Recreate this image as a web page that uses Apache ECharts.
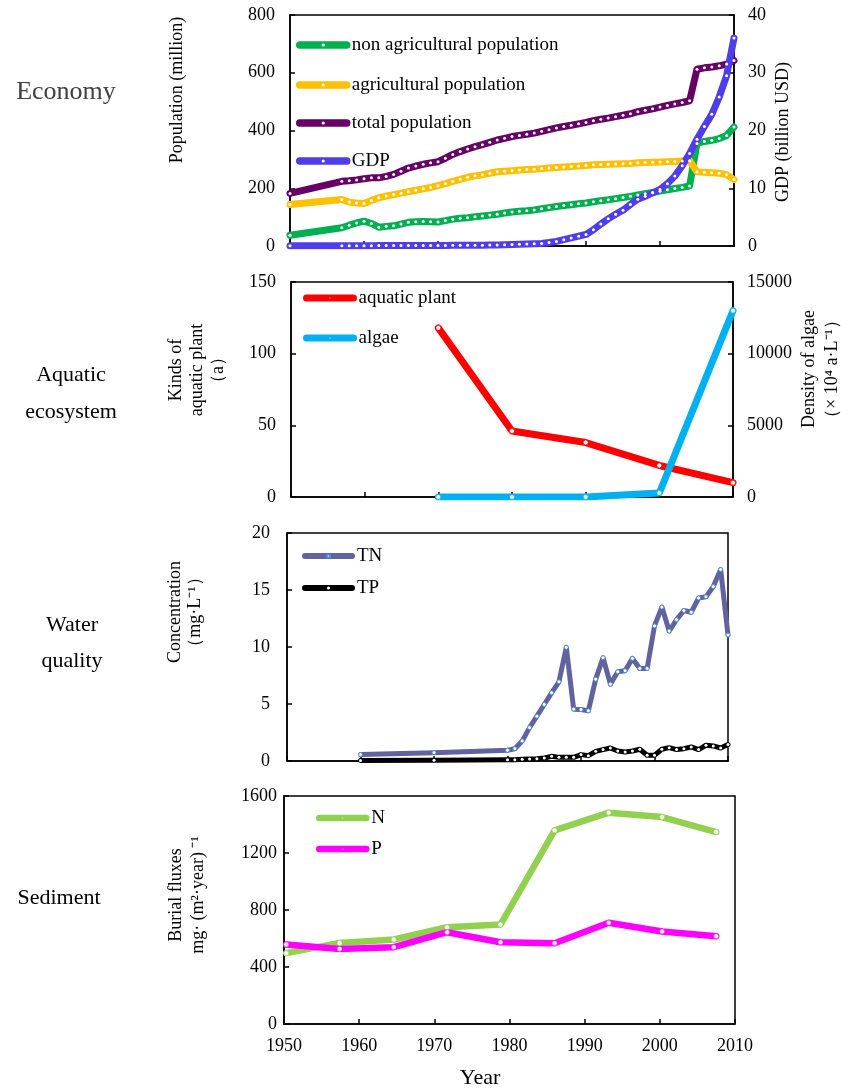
<!DOCTYPE html>
<html><head><meta charset="utf-8">
<script src="https://cdn.jsdelivr.net/npm/echarts@6/dist/echarts.min.js"></script>
<style>html,body{margin:0;padding:0;background:#fff}#c{width:852px;height:1088px}</style>
</head><body><div id="c"></div>
<script>
// ---- data ----
const xTicks = [1950, 1960, 1970, 1980, 1990, 2000, 2010];
const popYears = [1950,1957,1958,1959,1960,1961,1962,1963,1964,1965,1966,1967,1968,1969,1970,1971,1972,1973,1974,1975,1976,1977,1978,1979,1980,1981,1982,1983,1984,1985,1986,1987,1988,1989,1990,1991,1992,1993,1994,1995,1996,1997,1998,1999,2000,2001,2002,2003,2004,2005,2006,2007,2008,2009,2010];
const nonAgriPop = [37,63,72,80,86,78,65,68,70,76,82,84,85,84,83,88,93,96,98,101,104,107,110,114,118,120,122,125,129,133,137,140,143,146,149,153,157,160,164,168,172,177,181,185,190,195,199,203,208,355,362,366,372,383,412];
const agriPop = [144,161,152,149,147,158,167,173,178,183,188,193,198,203,209,216,224,231,238,243,247,252,257,259,261,263,265,266,268,270,272,274,275,277,279,281,282,283,284,285,286,288,289,290,291,292,293,294,295,257,255,254,252,247,230];
const totalPop = [182,224,226,229,233,236,236,241,248,259,270,277,283,288,292,304,317,327,336,344,351,359,367,373,379,383,387,391,397,403,409,414,418,423,428,434,439,443,448,453,458,465,470,475,481,487,492,497,503,612,617,620,624,630,642];
const gdp = [0.05,0.05,0.05,0.06,0.06,0.06,0.07,0.07,0.07,0.08,0.08,0.08,0.09,0.09,0.1,0.1,0.11,0.12,0.13,0.14,0.15,0.17,0.19,0.22,0.25,0.3,0.35,0.4,0.45,0.6,0.8,1.1,1.4,1.7,2.0,2.8,3.8,4.7,5.5,6.2,7.2,8.1,8.6,9.2,9.8,10.8,12.1,13.9,16.0,18.5,20.7,22.8,25.8,29.5,36];

const ecoYears = [1970, 1980, 1990, 2000, 2010];
const aquaticPlant = [118, 46, 38, 22, 10];
const algae = [0, 0, 0, 280, 13000];

const wqYears = [1960,1970,1980,1981,1982,1983,1984,1985,1986,1987,1988,1989,1990,1991,1992,1993,1994,1995,1996,1997,1998,1999,2000,2001,2002,2003,2004,2005,2006,2007,2008,2009,2010];
const tn = [0.56,0.73,0.94,1.08,1.76,2.93,3.93,4.96,5.98,6.95,9.97,4.55,4.52,4.4,7.18,9.06,6.74,7.83,7.92,9.0,8.12,8.12,11.85,13.5,11.4,12.4,13.2,13.05,14.3,14.4,15.3,16.8,11.05];
const tp = [0.05,0.06,0.12,0.12,0.15,0.18,0.2,0.26,0.41,0.32,0.32,0.32,0.56,0.47,0.85,1.0,1.14,0.88,0.79,0.88,1.03,0.5,0.5,1.03,1.17,1.0,1.08,1.23,1.0,1.38,1.32,1.14,1.44];

const sedYears = [1950.3,1957.4,1964.6,1971.7,1978.8,1986.0,1993.2,2000.3,2007.5];
const sedN = [497,569,593,679,698,1359,1483,1452,1347];
const sedP = [558,527,539,644,574,567,710,649,616];

// ---- chart ----
const FF = "'Liberation Serif','Times New Roman',serif";
const pair = (xs, ys) => xs.map((x, i) => [x, ys[i]]);

const grids = [
  {left: 290, top: 15, width: 444, height: 231},
  {left: 291, top: 282, width: 442, height: 215},
  {left: 287, top: 533, width: 441, height: 228},
  {left: 284, top: 796, width: 451, height: 228}
].map(g => Object.assign(g, {show: true, borderColor: '#000', borderWidth: 1.5, backgroundColor: 'transparent'}));

function xAxis(i, showLabel) {
  return {
    type: 'value', gridIndex: i, min: 1950, max: 2010, interval: 10,
    axisLine: {show: true, lineStyle: {color: '#000', width: 1.5}},
    axisTick: {show: true, inside: true, length: 5, lineStyle: {color: '#000', width: 1.5}},
    axisLabel: {show: showLabel, color: '#000', fontFamily: FF, fontSize: 18, margin: 13,
      formatter: v => xTicks.includes(v) ? String(v) : ''},
    splitLine: {show: false}
  };
}
function yAxis(i, min, max, interval, pos, margin) {
  return {
    type: 'value', gridIndex: i, min, max, interval, position: pos,
    axisLine: {show: true, lineStyle: {color: '#000', width: 1.5}},
    axisTick: {show: true, inside: true, length: 5, lineStyle: {color: '#000', width: 1.5}},
    axisLabel: {color: '#000', fontFamily: FF, fontSize: 18, margin, formatter: v => String(v)},
    splitLine: {show: false}
  };
}

function line(name, xi, yi, data, color, width, sym) {
  return {
    name, type: 'line', xAxisIndex: xi, yAxisIndex: yi, data,
    symbol: 'circle', symbolSize: sym.size, showSymbol: true,
    lineStyle: {color, width, cap: 'round', join: 'round'},
    itemStyle: {color: sym.fill || '#fff', borderColor: sym.border || color, borderWidth: sym.bw || 0},
    emphasis: {disabled: true}, silent: true, animation: false, z: 3
  };
}

function legend(name, left, center, itemWidth, lw) {
  return {
    data: [name], left, top: center - 10, padding: 0, itemWidth, itemHeight: 4,
    selectedMode: false, textStyle: {fontFamily: FF, fontSize: 19, color: '#000', lineHeight: 20},
    lineStyle: {width: lw, cap: 'round'}
  };
}

function vtext(x, y, text, size, lh) {
  return {type: 'text', x, y, rotation: Math.PI / 2, silent: true,
    style: {text, fontFamily: FF, fontSize: size, fill: '#000', textAlign: 'center', textVerticalAlign: 'middle', align: 'center', verticalAlign: 'middle', lineHeight: lh}};
}
function htext(x, y, text, size, color, lh) {
  return {type: 'text', x, y, silent: true,
    style: {text, fontFamily: FF, fontSize: size, fill: color || '#000', textAlign: 'center', textVerticalAlign: 'middle', align: 'center', verticalAlign: 'middle', lineHeight: lh || size * 1.5}};
}

const option = {
  backgroundColor: '#fff',
  animation: false,
  grid: grids,
  xAxis: [xAxis(0, false), xAxis(1, false), xAxis(2, false), xAxis(3, true)],
  yAxis: [
    yAxis(0, 0, 800, 200, 'left', 15),
    yAxis(0, 0, 40, 10, 'right', 14),
    yAxis(1, 0, 150, 50, 'left', 15),
    yAxis(1, 0, 15000, 5000, 'right', 14),
    yAxis(2, 0, 20, 5, 'left', 17),
    yAxis(3, 0, 1600, 400, 'left', 7)
  ],
  legend: [
    legend('non agricultural population', 296, 45, 47, 7.5),
    legend('agricultural population', 296, 85, 47, 7.5),
    legend('total population', 296, 123, 47, 7.5),
    legend('GDP', 296, 161, 47, 7.5),
    legend('aquatic plant', 303, 298, 47, 7),
    legend('algae', 303, 338, 47, 7),
    legend('TN', 302, 556, 47, 6),
    legend('TP', 302, 588, 47, 6),
    legend('N', 316, 818, 47, 6.5),
    legend('P', 316, 849, 47, 6.5)
  ],
  series: [
    line('non agricultural population', 0, 0, pair(popYears, nonAgriPop), '#00b050', 7, {size: 3}),
    line('agricultural population', 0, 0, pair(popYears, agriPop), '#ffc000', 7, {size: 3}),
    line('total population', 0, 0, pair(popYears, totalPop), '#660066', 7, {size: 3}),
    line('GDP', 0, 1, pair(popYears, gdp), '#4e3de8', 7, {size: 3}),
    line('aquatic plant', 1, 2, pair(ecoYears, aquaticPlant), '#ff0000', 7, {size: 5, bw: 0.8}),
    line('algae', 1, 3, pair(ecoYears, algae), '#00b0f0', 7, {size: 5, bw: 0.8}),
    line('TN', 2, 4, pair(wqYears, tn), '#62629e', 5, {size: 4, border: '#4a90d9', bw: 1}),
    line('TP', 2, 4, pair(wqYears, tp), '#000000', 5, {size: 3}),
    line('N', 3, 5, pair(sedYears, sedN), '#92d050', 6.5, {size: 5, bw: 0.6}),
    line('P', 3, 5, pair(sedYears, sedP), '#ff00ff', 6.5, {size: 5, bw: 0.6})
  ],
  graphic: [
    htext(66, 92, 'Economy', 26, '#404040'),
    htext(71, 394, 'Aquatic\necosystem', 22, '#000', 37),
    htext(72, 643, 'Water\nquality', 22, '#000', 36),
    htext(59, 898, 'Sediment', 22, '#000'),
    htext(480, 1078, 'Year', 22, '#000'),
    vtext(177, 90, 'Population (million)', 18, 20),
    vtext(783, 132, 'GDP (billion USD)', 18, 20),
    vtext(197, 370, 'Kinds of\naquatic plant\n（a）', 18, 21),
    vtext(821, 369, 'Density of algae\n（× 10⁴ a·L⁻¹）', 18, 23),
    vtext(185, 612, 'Concentration\n（mg·L⁻¹）', 18, 20),
    vtext(187, 895, 'Burial fluxes\nmg· (m²·year) ⁻¹', 18, 22)
  ]
};
const chart = echarts.init(document.getElementById('c'), null, {renderer: 'canvas'});
chart.setOption(option);
</script></body></html>
